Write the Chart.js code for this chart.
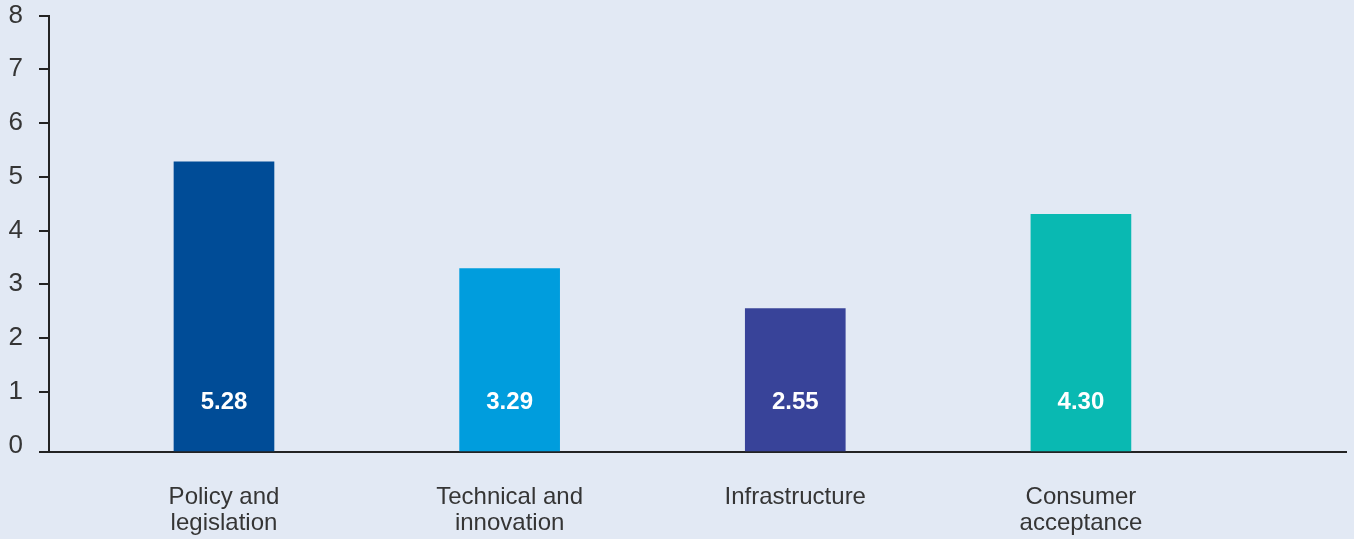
<!DOCTYPE html>
<html>
<head>
<meta charset="utf-8">
<script src="https://cdn.jsdelivr.net/npm/chart.js@4/dist/chart.umd.min.js"></script>
<style>
  html, body { margin: 0; padding: 0; background: #e2e9f4; }
  #wrap { width: 1354px; height: 539px; }
</style>
</head>
<body>
<div id="wrap"><canvas id="chart" width="1354" height="539"></canvas></div>
<script>
const categories = [
  ['Policy and', 'legislation'],
  ['Technical and', 'innovation'],
  ['Infrastructure'],
  ['Consumer', 'acceptance']
];
const scores = [5.28, 3.29, 2.55, 4.30];
const barColors = ['#004c97', '#009ddd', '#384399', '#09b9b2'];
const yTicks = [0, 1, 2, 3, 4, 5, 6, 7, 8];

const axisColor = '#232323';
const textColor = '#353535';
const fontFamily = '"Liberation Sans", Arial, sans-serif';
const yFloor = -0.12; // axis line sits a little below zero

// white value label near the foot of each bar
const valueLabels = {
  id: 'valueLabels',
  afterDatasetsDraw(chart) {
    const ctx = chart.ctx;
    const meta = chart.getDatasetMeta(0);
    ctx.save();
    ctx.fillStyle = '#ffffff';
    ctx.font = 'bold 24px ' + fontFamily;
    ctx.textAlign = 'center';
    ctx.textBaseline = 'middle';
    meta.data.forEach((bar, i) => {
      ctx.fillText(scores[i].toFixed(2), bar.x, bar.base - 49);
    });
    ctx.restore();
  }
};

new Chart(document.getElementById('chart'), {
  type: 'bar',
  data: {
    datasets: [{
      data: scores.map((v, i) => ({ x: i, y: v })),
      backgroundColor: barColors,
      base: yFloor,
      barThickness: 100,
      borderWidth: 0
    }]
  },
  plugins: [valueLabels],
  options: {
    responsive: false,
    animation: false,
    events: [],
    layout: { padding: { top: 15.5, right: 8, left: 0, bottom: 0 } },
    plugins: {
      legend: { display: false },
      tooltip: { enabled: false }
    },
    scales: {
      x: {
        type: 'linear',
        offset: false,
        min: -0.6126,
        max: 3.928,
        afterBuildTicks(scale) {
          scale.ticks = categories.map((c, i) => ({ value: i }));
        },
        afterFit(scale) { scale.height = 87; },
        grid: { display: false, drawTicks: false, offset: false },
        border: { display: true, color: axisColor, width: 2 },
        ticks: {
          autoSkip: false,
          maxRotation: 0,
          padding: 33,
          color: textColor,
          font: { family: fontFamily, size: 24, lineHeight: 1.06 },
          callback: (v) => categories[v]
        }
      },
      y: {
        min: yFloor,
        max: 8,
        afterBuildTicks(scale) {
          scale.ticks = [{ value: yFloor }].concat(yTicks.map(v => ({ value: v })));
        },
        afterFit(scale) {
          scale.width = 49;
          scale.paddingTop = 0;
          scale.paddingBottom = 0;
        },
        grid: {
          drawOnChartArea: false,
          drawTicks: true,
          tickLength: 10,
          lineWidth: 2,
          tickWidth: 2,
          tickColor: (c) => (c.tick && c.tick.value === 0 ? 'rgba(0,0,0,0)' : axisColor)
        },
        border: { display: true, color: axisColor, width: 2 },
        ticks: {
          padding: 16,
          color: textColor,
          font: { family: fontFamily, size: 26 },
          callback: (v) => (v < 0 ? '' : String(v))
        }
      }
    }
  }
});
</script>
</body>
</html>
